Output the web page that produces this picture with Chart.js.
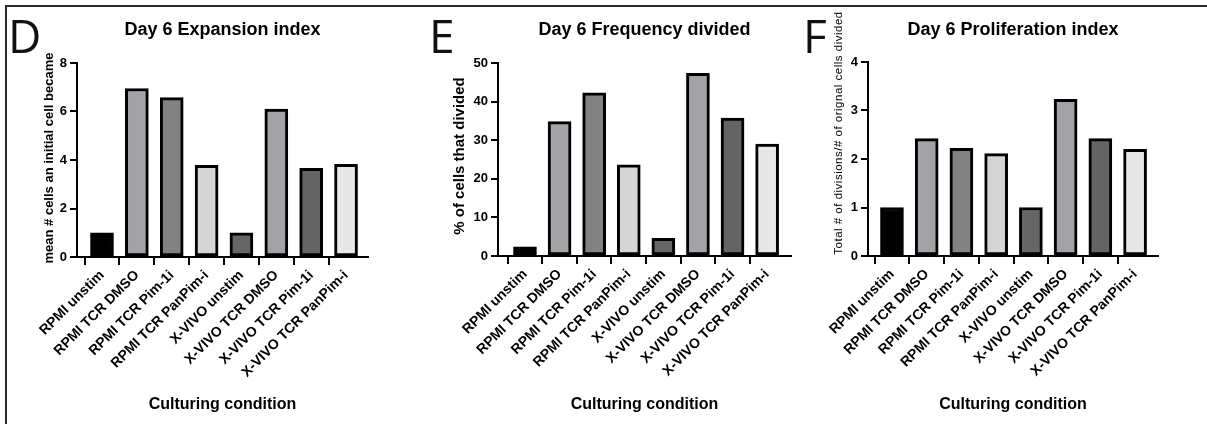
<!DOCTYPE html>
<html>
<head>
<meta charset="utf-8">
<script src="https://cdn.jsdelivr.net/npm/chart.js@4.4.1/dist/chart.umd.min.js"></script>
<style>
body{margin:0;background:#fff;width:1207px;height:424px;overflow:hidden;position:relative;font-family:'Liberation Sans',Arial,sans-serif}
.frame{position:absolute;left:5px;top:5px;width:1220px;height:440px;border-top:2px solid #2a2a2a;border-left:2px solid #2a2a2a}
canvas{position:absolute;top:0}
.letter{position:absolute;top:12px;font-family:'Open Sans',sans-serif;font-size:46px;line-height:46px;color:#111}
.ytitle{position:absolute;white-space:nowrap;transform:translate(-50%,-50%) rotate(-90deg);color:#000}
</style>
</head>
<body>
<div class="frame"></div>
<canvas id="chartD" width="400" height="424" style="left:0px"></canvas>
<canvas id="chartE" width="400" height="424" style="left:400px"></canvas>
<canvas id="chartF" width="407" height="424" style="left:800px"></canvas>

<div class="letter" style="left:8px">D</div>
<div class="letter" style="left:429px">E</div>
<div class="letter" style="left:803px">F</div>

<div class="ytitle" style="left:48px;top:158px;font-size:13px;font-weight:bold">mean # cells an initial cell became</div>
<div class="ytitle" style="left:458px;top:156px;font-size:15px;font-weight:bold">% of cells that divided</div>
<div class="ytitle" style="left:838px;top:133px;font-size:11.5px;letter-spacing:0.5px">Total # of divisions/# of orignal cells divided</div>

<script>
// categories
const conditions = ['RPMI unstim', 'RPMI TCR DMSO', 'RPMI TCR Pim-1i', 'RPMI TCR PanPim-i',
                    'X-VIVO unstim', 'X-VIVO TCR DMSO', 'X-VIVO TCR Pim-1i', 'X-VIVO TCR PanPim-i'];

// series values
const expansionIndex = [1.0, 6.95, 6.57, 3.78, 1.0, 6.1, 3.66, 3.82];
const frequencyDivided = [2.4, 34.8, 42.3, 23.6, 4.6, 47.3, 35.7, 29.0];
const proliferationIndex = [1.0, 2.42, 2.22, 2.11, 1.0, 3.23, 2.42, 2.2];

// y tick labels
const expansionTicks = [0, 2, 4, 6, 8];
const frequencyTicks = [0, 10, 20, 30, 40, 50];
const proliferationTicks = [0, 1, 2, 3, 4];

const barColors = ['#000000', '#a2a2a7', '#828282', '#d5d5d5', '#666666', '#a2a2a7', '#646464', '#e8e8e8'];

Chart.defaults.font.family = "'Liberation Sans', Arial, sans-serif";
Chart.defaults.color = '#000';

function makeChart(id, title, values, yTicks, lay) {
    const ctx = document.getElementById(id).getContext('2d');
    return new Chart(ctx, {
        type: 'bar',
        data: {
            datasets: [{
                data: values.map((v, i) => ({x: i, y: v})),
                backgroundColor: barColors,
                borderColor: '#000',
                borderWidth: 3,
                borderSkipped: false,
                barThickness: 23
            }]
        },
        options: {
            responsive: false,
            animation: false,
            devicePixelRatio: 1,
            layout: {padding: {left: 0, top: 0, bottom: 0, right: lay.canvasLeft + lay.canvasWidth - lay.right}},
            plugins: {
                legend: {display: false},
                tooltip: {enabled: false},
                title: {
                    display: true, text: title, fullSize: false, color: '#000',
                    font: {size: 18, weight: 'bold'},
                    padding: {top: 19.2, bottom: lay.top - 19.2 - 21.6}
                }
            },
            scales: {
                x: {
                    type: 'linear',
                    min: lay.xMin, max: lay.xMax,
                    offset: false,
                    afterBuildTicks: s => { s.ticks = conditions.map((c, i) => ({value: i})); },
                    afterFit: s => { s.height = 424 - lay.bottom; },
                    grid: {
                        drawOnChartArea: false, color: '#000', lineWidth: 2, tickLength: 8,
                        tickColor: c => (c.tick && Number.isInteger(c.tick.value)) ? '#000' : 'rgba(0,0,0,0)'
                    },
                    border: {color: '#000', width: 2},
                    ticks: {
                        autoSkip: false, minRotation: 45, maxRotation: 45, padding: 2,
                        font: {size: 14, weight: 'bold'},
                        callback: v => conditions[v]
                    },
                    title: {
                        display: true, text: 'Culturing condition',
                        font: {size: 16, weight: 'bold'},
                        padding: {top: 0, bottom: 10}
                    }
                },
                y: {
                    min: yTicks[0], max: yTicks[yTicks.length - 1],
                    afterFit: s => { s.width = lay.left - lay.canvasLeft; },
                    grid: {drawOnChartArea: false, color: '#000', lineWidth: 2, tickLength: 7},
                    border: {color: '#000', width: 2},
                    ticks: {stepSize: yTicks[1] - yTicks[0], padding: 3, font: {size: 13, weight: 'bold'}}
                }
            }
        }
    });
}

makeChart('chartD', 'Day 6 Expansion index', expansionIndex, expansionTicks,
    {canvasLeft: 0, canvasWidth: 400, left: 77, right: 368, top: 63, bottom: 257, xMin: -0.717, xMax: 7.63});
makeChart('chartE', 'Day 6 Frequency divided', frequencyDivided, frequencyTicks,
    {canvasLeft: 400, canvasWidth: 400, left: 498, right: 791, top: 63, bottom: 256, xMin: -0.78, xMax: 7.69});
makeChart('chartF', 'Day 6 Proliferation index', proliferationIndex, proliferationTicks,
    {canvasLeft: 800, canvasWidth: 407, left: 868, right: 1158, top: 62, bottom: 256, xMin: -0.69, xMax: 7.66});
</script>
</body>
</html>
